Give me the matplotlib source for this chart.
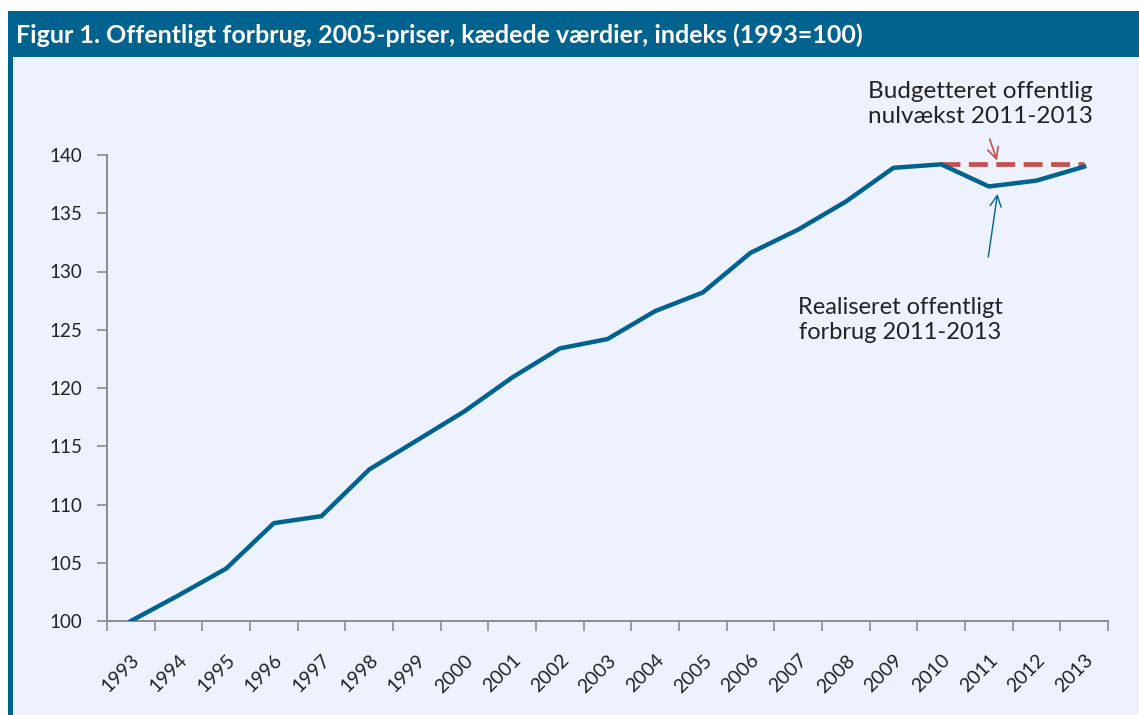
import matplotlib.pyplot as plt
from matplotlib.patches import Rectangle

years = [str(y) for y in range(1993, 2014)]
realiseret = [100.0, 102.2, 104.5, 108.4, 109.0, 113.0, 115.5, 118.0, 120.9, 123.4,
              124.2, 126.6, 128.2, 131.6, 133.6, 136.0, 138.9, 139.2, 137.3, 137.8, 139.0]
budget_years = ["2010", "2011", "2012", "2013"]
budget = [139.2, 139.2, 139.2, 139.2]
yticks = [100, 105, 110, 115, 120, 125, 130, 135, 140]

title = "Figur 1. Offentligt forbrug, 2005-priser, kædede værdier, indeks (1993=100)"
note_budget = "Budgetteret offentlig\nnulvækst 2011-2013"
note_real = "Realiseret offentligt\nforbrug 2011-2013"

BLUE = "#00628E"
RED = "#C5504E"
BG = "#EEF2FE"
GREY = "#8C8C8C"

plt.rcParams['font.family'] = ['Lato', 'DejaVu Sans']

W, H = 1139, 715
fig = plt.figure(figsize=(W / 100, H / 100), dpi=100)
fig.patch.set_facecolor("white")

# panel background, title bar and left border
fig.add_artist(Rectangle((8 / W, 0), 1 - 8 / W, 1 - 11 / H, transform=fig.transFigure,
                         facecolor=BG, edgecolor="none", zorder=0))
fig.add_artist(Rectangle((8 / W, 1 - 57 / H), 1 - 8 / W, 46 / H, transform=fig.transFigure,
                         facecolor=BLUE, edgecolor="none", zorder=1))
fig.add_artist(Rectangle((8 / W, 0), 5 / W, 1 - 11 / H, transform=fig.transFigure,
                         facecolor=BLUE, edgecolor="none", zorder=1))
fig.text(16 / W, 1 - 35 / H, title, color="white", fontsize=18, fontweight="bold",
         va="center", ha="left", zorder=2)

ax = fig.add_axes([107 / W, 1 - 621 / H, (1108 - 107) / W, (621 - 155) / H])
ax.set_facecolor("none")

x = list(range(len(years)))
ax.plot(x, realiseret, color=BLUE, lw=3.2, solid_joinstyle="round", zorder=3)
bx = [years.index(y) for y in budget_years]
ax.plot(bx, budget, color=RED, lw=3.4, ls=(0, (4.0, 1.8)), zorder=2)

ax.set_xlim(-0.5, len(years) - 0.5)
ax.set_ylim(100, 140)
ax.set_yticks(yticks)
ax.set_yticklabels([str(v) for v in yticks], fontsize=13.5, color="#222222")

# ticks on category boundaries, labels at category centers
ax.set_xticks([i - 0.5 for i in range(len(years) + 1)])
ax.set_xticklabels([])
ax.set_xticks(x, minor=True)
ax.set_xticklabels(years, minor=True, rotation=45, ha="right", va="top",
                   rotation_mode="anchor", fontsize=14, color="#222222")
ax.tick_params(axis="x", which="minor", length=0, pad=22)
ax.tick_params(axis="both", which="major", length=7, width=1.2, color=GREY)
ax.tick_params(axis="y", pad=11)

for s in ["top", "right"]:
    ax.spines[s].set_visible(False)
for s in ["left", "bottom"]:
    ax.spines[s].set_color(GREY)
    ax.spines[s].set_linewidth(1.4)

# annotations
ax.annotate("", xy=(18.19, 139.3), xytext=(18.0, 141.6),
            arrowprops=dict(arrowstyle="->", color=RED, lw=1.2, mutation_scale=20),
            annotation_clip=False)
ax.annotate("", xy=(18.19, 136.9), xytext=(17.98, 131.0),
            arrowprops=dict(arrowstyle="->", color=BLUE, lw=1.0, mutation_scale=20),
            annotation_clip=False)
fig.text(980 / W, 1 - 104 / H, note_budget, ha="center", va="center", fontsize=17.5,
         color="#222222", linespacing=1.25)
fig.text(900 / W, 1 - 320 / H, note_real, ha="center", va="center", fontsize=17,
         color="#222222", linespacing=1.25)

fig.savefig("out.png", dpi=100, facecolor=fig.get_facecolor())
